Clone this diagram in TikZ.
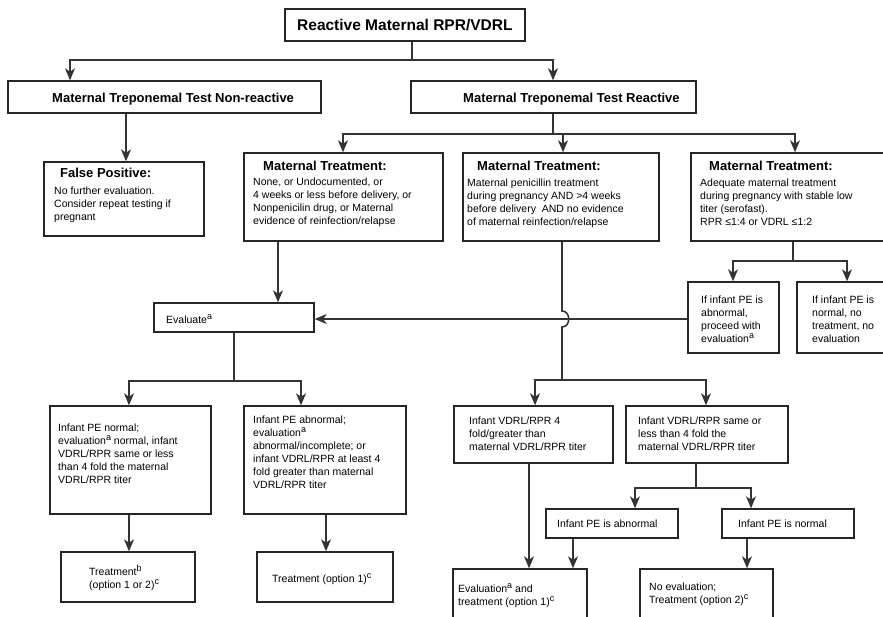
\documentclass[tikz,border=0pt]{standalone}
\usepackage{fontspec}
\setmainfont{Liberation Sans}
\usetikzlibrary{fit,arrows.meta}
\newcommand{\sups}[1]{\raisebox{0.75ex}{\fontsize{9}{9}\selectfont #1}}

\begin{document}
\begin{tikzpicture}[x=1pt,y=-1pt]
        \tikzset{box/.style={draw=black!85, line width=1.4pt, inner sep=0pt},
                 conn/.style={draw=black!80, line width=1.4pt},
                 arr/.style={conn, -{Stealth[length=12pt,width=10pt,inset=3.5pt]}},
                 txt/.style={anchor=north west, inner sep=0pt, align=left,
                             font=\fontsize{10.5}{13}\selectfont},
                 hd/.style={anchor=north west, inner sep=0pt,
                            font=\fontsize{13}{15}\selectfont\bfseries}}
        \clip (0,0) rectangle (883,616);
        % boxes
        \node[box, fit={(285,9) (525,41)}] (top) {};
        \node[box, fit={(8,81) (321,113)}] (nonr) {};
        \node[box, fit={(411,81) (696,113)}] (reac) {};
        \node[box, fit={(44,162) (204,236)}] (fp) {};
        \node[box, fit={(244,153) (443,241)}] (mt1) {};
        \node[box, fit={(463,153) (659,241)}] (mt2) {};
        \node[box, fit={(691,153) (900,241)}] (mt3) {};
        \node[box, fit={(688,282) (779,353)}] (ab) {};
        \node[box, fit={(797,282) (900,353)}] (nm) {};
        \node[box, fit={(154,303) (314,332)}] (ev) {};
        \node[box, fit={(50,406) (211,514)}] (in1) {};
        \node[box, fit={(244,406) (406,514)}] (in2) {};
        \node[box, fit={(61,552) (195,602)}] (t1) {};
        \node[box, fit={(257,552) (393,602)}] (t2) {};
        \node[box, fit={(454,406) (613,463)}] (vd1) {};
        \node[box, fit={(626,406) (788,463)}] (vd2) {};
        \node[box, fit={(546,509) (678,538)}] (pa) {};
        \node[box, fit={(722,509) (854,538)}] (pn) {};
        \node[box, fit={(453,569) (587,640)}] (et) {};
        \node[box, fit={(640,569) (773,640)}] (ne) {};
        % texts
        \node[anchor=north west, inner sep=0pt, font=\fontsize{15.5}{18}\selectfont\bfseries]
             (top-t) at (297,19) {Reactive Maternal RPR/VDRL};
        \node[hd] (nonr-t) at (52,93) {Maternal Treponemal Test Non-reactive};
        \node[hd] (reac-t) at (463,93) {Maternal Treponemal Test Reactive};
        \node[hd] (fp-h) at (60,168) {False Positive:};
        \node[txt] (fp-b) at (54,187) {No further evaluation.\\Consider repeat testing if\\pregnant};
        \node[hd] (mt1-h) at (263,161) {Maternal Treatment:};
        \node[txt] (mt1-b) at (253,178) {None, or Undocumented, or\\4 weeks or less before delivery, or\\Nonpenicilin drug, or Maternal\\evidence of reinfection/relapse};
        \node[hd] (mt2-h) at (477,161) {Maternal Treatment:};
        \node[txt] (mt2-b) at (467,179) {Maternal penicillin treatment\\during pregnancy AND >4 weeks\\before delivery\ \ AND no evidence\\of maternal reinfection/relapse};
        \node[hd] (mt3-h) at (709,161) {Maternal Treatment:};
        \node[txt] (mt3-b) at (700,179) {Adequate maternal treatment\\during pregnancy with stable low\\titer (serofast).\\RPR ≤1:4 or VDRL ≤1:2};
        \node[txt] (ab-t) at (701,296) {If infant PE is\\abnormal,\\proceed with\\evaluation\sups{a}};
        \node[txt] (nm-t) at (812,296) {If infant PE is\\normal, no\\treatment, no\\evaluation};
        \node[txt] (ev-t) at (166,314) {Evaluate\sups{a}};
        \node[txt] (in1-t) at (58,424) {Infant PE normal;\\evaluation\sups{a} normal, infant\\VDRL/RPR same or less\\than 4 fold the maternal\\VDRL/RPR titer};
        \node[txt] (in2-t) at (253,416) {Infant PE abnormal;\\evaluation\sups{a}\\abnormal/incomplete; or\\infant VDRL/RPR at least 4\\fold greater than maternal\\VDRL/RPR titer};
        \node[txt] (t1-t) at (89,565) {Treatment\sups{b}\\(option 1 or 2)\sups{c}};
        \node[txt] (t2-t) at (272,573) {Treatment (option 1)\sups{c}};
        \node[txt] (vd1-t) at (469,417) {Infant VDRL/RPR 4\\fold/greater than\\maternal VDRL/RPR titer};
        \node[txt] (vd2-t) at (638,417) {Infant VDRL/RPR same or\\less than 4 fold the\\maternal VDRL/RPR titer};
        \node[txt] (pa-t) at (557,520) {Infant PE is abnormal};
        \node[txt] (pn-t) at (738,520) {Infant PE is normal};
        \node[txt] (et-t) at (458,583) {Evaluation\sups{a} and\\treatment (option 1)\sups{c}};
        \node[txt] (ne-t) at (649,583) {No evaluation;\\Treatment (option 2)\sups{c}};
        % connectors
        \draw[conn] (top.south -| 412,0) -- (412,60) coordinate (s0);
        \draw[arr] (s0) -| (nonr.north -| 70,0);
        \draw[arr] (s0) -| (reac.north -| 553,0);
        \draw[arr] (nonr.south -| 126,0) -- (fp.north -| 126,0);
        \draw[conn] (reac.south -| 553,0) -- (553,134) coordinate (s1);
        \draw[arr] (s1) -| (mt1.north -| 343,0);
        \draw[arr] (s1) -- (563,134) -- (mt2.north -| 563,0);
        \draw[arr] (s1) -| (mt3.north -| 795,0);
        \draw[arr] (mt1.south -| 278,0) -- (ev.north -| 278,0);
        \draw[conn] (mt3.south -| 793,0) -- (793,261) coordinate (s2);
        \draw[arr] (s2) -| (ab.north -| 733,0);
        \draw[arr] (s2) -| (nm.north -| 847,0);
        \draw[arr] (ab.west |- 0,319) -- (ev.east |- 0,319);
        \draw[conn, line width=1.6pt] (mt2.south -| 562,0) -- (562,311)
             .. controls (571,311) and (571,327) .. (562,327) -- (562,380) coordinate (s3);
        \draw[arr] (s3) -| (vd1.north -| 535,0);
        \draw[arr] (s3) -| (vd2.north -| 706,0);
        \draw[conn] (ev.south -| 234,0) -- (234,381) coordinate (s4);
        \draw[arr] (s4) -| (in1.north -| 129,0);
        \draw[arr] (s4) -| (in2.north -| 301,0);
        \draw[arr] (in1.south -| 129,0) -- (t1.north -| 129,0);
        \draw[arr] (in2.south -| 326,0) -- (t2.north -| 326,0);
        \draw[arr] (vd1.south -| 529,0) -- (et.north -| 529,0);
        \draw[conn] (vd2.south -| 696,0) -- (696,488) coordinate (s5);
        \draw[arr] (s5) -| (pa.north -| 635,0);
        \draw[arr] (s5) -| (pn.north -| 751,0);
        \draw[arr] (pa.south -| 573,0) -- (et.north -| 573,0);
        \draw[arr] (pn.south -| 747,0) -- (ne.north -| 747,0);
\end{tikzpicture}
\end{document}
